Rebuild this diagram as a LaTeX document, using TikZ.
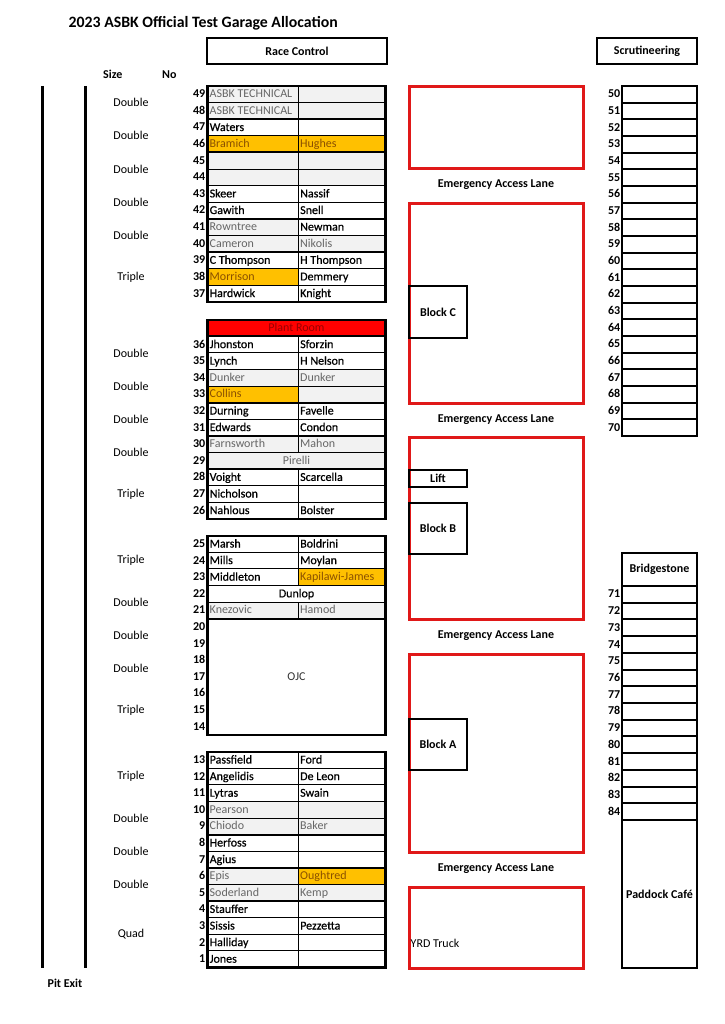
\documentclass[tikz,border=0pt]{standalone}
\usepackage{fontspec}
\setmainfont{Carlito}
\newfontfamily\semifont[FakeBold=0.6]{Carlito}
\definecolor{cellgray}{HTML}{F2F2F2}
\definecolor{graytext}{HTML}{666666}
\definecolor{orangefill}{HTML}{FFC000}
\definecolor{orangetext}{HTML}{8A5000}
\definecolor{plantred}{HTML}{FF0000}
\definecolor{planttext}{HTML}{990000}
\definecolor{boxred}{HTML}{E01818}
\newcommand\cellfont{\fontsize{12}{14}\selectfont}
\newcommand\scellfont{\fontsize{12}{14}\selectfont\semifont}
\newcommand\bcellfont{\fontsize{12}{14}\selectfont\bfseries}
\def\btop{86}
\def\rh{16.6}
\newcommand\garrow[6]{%
  \pgfmathsetmacro\yt{\btop+#1*\rh}%
  \pgfmathsetmacro\yb{\btop+(#1+1)*\rh}%
  \pgfmathsetmacro\yc{\btop+(#1+0.5)*\rh}%
  \path[cell#4] (207.5,\yt) rectangle (298,\yb);
  \path[cell#6] (298,\yt) rectangle (385.5,\yb);
  \node[txt#4,anchor=west] (L#2) at (209.5,\yc) {#3};
  \node[txt#6,anchor=west] (R#2) at (300,\yc) {#5};
  \node[numlab] (N#2) at (205.5,\yc) {#2};
}
\newcommand\garmerge[5]{%
  \pgfmathsetmacro\yt{\btop+#1*\rh}%
  \pgfmathsetmacro\yb{\btop+(#1+#2)*\rh}%
  \pgfmathsetmacro\yc{\btop+(#1+#2/2)*\rh}%
  \path[cell#4] (207.5,\yt) rectangle (385.5,\yb);
  \node[txt#4] (#5) at (296.5,\yc) {#3};
}
\newcommand\garnum[2]{%
  \pgfmathsetmacro\yc{\btop+(#1+0.5)*\rh}%
  \node[numlab] (N#2) at (205.5,\yc) {#2};
}
\newcommand\gsep[1]{%
  \pgfmathsetmacro\yy{\btop+#1*\rh}%
  \draw[grpline] (207.5,\yy) -- (385.5,\yy);
}
\newcommand\gouter[1]{%
  \pgfmathsetmacro\yy{\btop+#1*\rh}%
  \draw[outerline] (207.5,\btop) rectangle (385.5,\yy);
}
\newcommand\sizelab[3]{%
  \pgfmathsetmacro\yc{\btop+#1*\rh}%
  \node[sizetext] (#3) at (131,\yc) {#2};
}
\begin{document}
\begin{tikzpicture}[x=1pt,y=-1pt,
  celltext/.style={font=\cellfont,inner sep=0pt,text height=9pt,text depth=2pt},
  cellW/.style={fill=white,draw=black,line width=0.9pt},
  cellG/.style={fill=cellgray,draw=black,line width=0.9pt},
  cellO/.style={fill=orangefill,draw=black,line width=0.9pt},
  cellP/.style={fill=plantred,draw=black,line width=0.9pt},
  txtW/.style={celltext,font=\scellfont,text=black},
  txtG/.style={celltext,text=graytext},
  txtO/.style={celltext,text=orangetext},
  txtP/.style={celltext,text=planttext},
  numlab/.style={font=\bcellfont,anchor=east,inner sep=0pt,text height=9pt,text depth=2pt},
  sizetext/.style={font=\cellfont,inner sep=0pt},
  grpline/.style={draw=black,line width=1.8pt},
  outerline/.style={draw=black,line width=2.4pt},
  redbox/.style={draw=boxred,line width=3pt},
  blackbox/.style={draw=black,line width=2.4pt,font=\bcellfont,inner sep=0pt},
  headbox/.style={draw=black,line width=2.6pt,font=\bcellfont,inner sep=0pt},
  stall/.style={draw=black,line width=2pt},
  bold/.style={font=\bcellfont,inner sep=0pt}
]
\path[use as bounding box,fill=white] (0,0) rectangle (724,1024);

% title and headers
\node[font=\fontsize{15.8}{18}\selectfont\bfseries,anchor=base west,inner sep=0pt] (title) at (68.5,28) {2023 ASBK Official Test Garage Allocation};
\node[headbox,minimum width=180pt,minimum height=26pt] (racecontrol) at (297,51) {Race Control};
\node[headbox,minimum width=100pt,minimum height=26pt] (scrut) at (647,51) {Scrutineering};
\node[bold,anchor=base west] (sizehead) at (103,79) {Size};
\node[bold,anchor=base west] (nohead) at (162,79) {No};

% pit lane lines
\coordinate (pa) at (42,86);
\coordinate (pb) at (42,968);
\coordinate (pc) at (85,86);
\coordinate (pd) at (85,968);
\draw[line width=3pt] (pa) -- (pb);
\draw[line width=3pt] (pc) -- (pd);
\node[bold] (pitexit) at (65,983) {Pit Exit};

% ---------- block 1 ----------
\def\btop{86}
\garrow{0}{49}{ASBK TECHNICAL}{G}{}{G}
\garrow{1}{48}{ASBK TECHNICAL}{G}{}{G}
\garrow{2}{47}{Waters}{W}{}{W}
\garrow{3}{46}{Bramich}{O}{Hughes}{O}
\garrow{4}{45}{}{G}{}{G}
\garrow{5}{44}{}{G}{}{G}
\garrow{6}{43}{Skeer}{W}{Nassif}{W}
\garrow{7}{42}{Gawith}{W}{Snell}{W}
\garrow{8}{41}{Rowntree}{G}{Newman}{W}
\garrow{9}{40}{Cameron}{G}{Nikolis}{G}
\garrow{10}{39}{C Thompson}{W}{H Thompson}{W}
\garrow{11}{38}{Morrison}{O}{Demmery}{W}
\garrow{12}{37}{Hardwick}{W}{Knight}{W}
\gsep{2}\gsep{4}\gsep{6}\gsep{8}\gsep{10}
\gouter{13}
\sizelab{1}{Double}{s1a}
\sizelab{3}{Double}{s1b}
\sizelab{5}{Double}{s1c}
\sizelab{7}{Double}{s1d}
\sizelab{9}{Double}{s1e}
\sizelab{11.5}{Triple}{s1f}

% ---------- block 2 ----------
\def\btop{319.7}
\garmerge{0}{1}{Plant Room}{P}{plantroom}
\garrow{1}{36}{Jhonston}{W}{Sforzin}{W}
\garrow{2}{35}{Lynch}{W}{H Nelson}{W}
\garrow{3}{34}{Dunker}{G}{Dunker}{G}
\garrow{4}{33}{Collins}{O}{}{G}
\garrow{5}{32}{Durning}{W}{Favelle}{W}
\garrow{6}{31}{Edwards}{W}{Condon}{W}
\garrow{7}{30}{Farnsworth}{G}{Mahon}{G}
\garmerge{8}{1}{Pirelli}{G}{pirelli}
\garnum{8}{29}
\garrow{9}{28}{Voight}{W}{Scarcella}{W}
\garrow{10}{27}{Nicholson}{W}{}{W}
\garrow{11}{26}{Nahlous}{W}{Bolster}{W}
\gsep{1}\gsep{3}\gsep{5}\gsep{7}\gsep{9}
\gouter{12}
\sizelab{2}{Double}{s2a}
\sizelab{4}{Double}{s2b}
\sizelab{6}{Double}{s2c}
\sizelab{8}{Double}{s2d}
\sizelab{10.5}{Triple}{s2e}

% ---------- block 3 ----------
\def\btop{535.7}
\garrow{0}{25}{Marsh}{W}{Boldrini}{W}
\garrow{1}{24}{Mills}{W}{Moylan}{W}
\garrow{2}{23}{Middleton}{W}{Kapilawi-James}{O}
\garmerge{3}{1}{Dunlop}{W}{dunlop}
\garnum{3}{22}
\garrow{4}{21}{Knezovic}{G}{Hamod}{G}
\path[cellW] (207.5,618.7) rectangle (385.5,734.9);
\node[txtG,text=black!80] (ojc) at (296.5,676.8) {OJC};
\garnum{5}{20}\garnum{6}{19}\garnum{7}{18}\garnum{8}{17}
\garnum{9}{16}\garnum{10}{15}\garnum{11}{14}
\gsep{3}\gsep{5}
\gouter{12}
\sizelab{1.5}{Triple}{s3a}
\sizelab{4}{Double}{s3b}
\sizelab{6}{Double}{s3c}
\sizelab{8}{Double}{s3d}
\sizelab{10.5}{Triple}{s3e}

% ---------- block 4 ----------
\def\btop{751.7}
\garrow{0}{13}{Passfield}{W}{Ford}{W}
\garrow{1}{12}{Angelidis}{W}{De Leon}{W}
\garrow{2}{11}{Lytras}{W}{Swain}{W}
\garrow{3}{10}{Pearson}{G}{}{G}
\garrow{4}{9}{Chiodo}{G}{Baker}{G}
\garrow{5}{8}{Herfoss}{W}{}{W}
\garrow{6}{7}{Agius}{W}{}{W}
\garrow{7}{6}{Epis}{G}{Oughtred}{O}
\garrow{8}{5}{Soderland}{G}{Kemp}{G}
\garrow{9}{4}{Stauffer}{W}{}{W}
\garrow{10}{3}{Sissis}{W}{Pezzetta}{W}
\garrow{11}{2}{Halliday}{W}{}{W}
\garrow{12}{1}{Jones}{W}{}{W}
\gsep{3}\gsep{5}\gsep{7}\gsep{9}
\gouter{13}
\sizelab{1.5}{Triple}{s4a}
\sizelab{4}{Double}{s4b}
\sizelab{6}{Double}{s4c}
\sizelab{8}{Double}{s4d}
\sizelab{11}{Quad}{s4e}

% ---------- red zones ----------
\draw[redbox] (409,86.7) rectangle (583,169);
\draw[redbox] (409,203.3) rectangle (583,403);
\draw[redbox] (409,437) rectangle (583,619.5);
\draw[redbox] (409,654) rectangle (583,852);
\draw[redbox] (409,887) rectangle (583,968);
\node[bold] (eal1) at (496,185) {Emergency Access Lane};
\node[bold] (eal2) at (496,420) {Emergency Access Lane};
\node[bold] (eal3) at (496,636) {Emergency Access Lane};
\node[bold] (eal4) at (496,869) {Emergency Access Lane};
\node[blackbox,minimum width=58pt,minimum height=52pt] (blockC) at (438,312) {Block C};
\node[blackbox,minimum width=58pt,minimum height=17pt] (lift) at (438,478.5) {Lift};
\node[blackbox,minimum width=58pt,minimum height=51pt] (blockB) at (438,528.5) {Block B};
\node[blackbox,minimum width=58pt,minimum height=51pt] (blockA) at (438,744.5) {Block A};
\node[font=\cellfont,anchor=west,inner sep=0pt] (yrd) at (410.5,943) {YRD Truck};

% ---------- right column ----------
\foreach \n [count=\k from 0] in {50,...,70} {
  \pgfmathsetmacro\yt{86+\k*16.667}
  \pgfmathsetmacro\yb{86+(\k+1)*16.667}
  \pgfmathsetmacro\yc{86+(\k+0.5)*16.667}
  \draw[stall] (622,\yt) rectangle (697,\yb);
  \node[numlab] (S\n) at (620.5,\yc) {\n};
}
\draw[outerline] (622,86) rectangle (697,436);
\node[headbox,line width=2.4pt,minimum width=75pt,minimum height=33pt] (bridgestone) at (659.5,569.5) {Bridgestone};
\foreach \n [count=\k from 0] in {71,...,84} {
  \pgfmathsetmacro\yt{586+\k*16.714}
  \pgfmathsetmacro\yb{586+(\k+1)*16.714}
  \pgfmathsetmacro\yc{586+(\k+0.5)*16.714}
  \draw[stall] (622,\yt) rectangle (697,\yb);
  \node[numlab] (S\n) at (620.5,\yc) {\n};
}
\node[headbox,line width=2.4pt,minimum width=75pt,minimum height=148pt] (paddock) at (659.5,894) {Paddock Café};
\draw[outerline] (622,553) rectangle (697,968);
\end{tikzpicture}
\end{document}
